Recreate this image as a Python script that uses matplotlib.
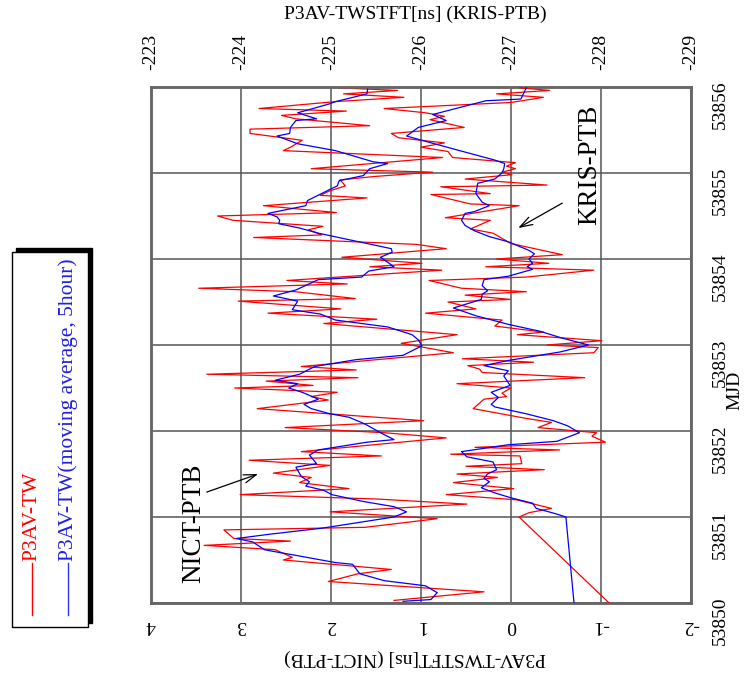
import matplotlib
matplotlib.use("Agg")
import matplotlib.pyplot as plt
from matplotlib.patches import Rectangle
from matplotlib.lines import Line2D

plt.rcParams['font.family'] = ['Liberation Serif', 'DejaVu Serif']

# NICT-PTB, raw P3AV-TW (MJD, ns)
nict_mjd = [
    53855.99, 53855.96, 53855.92, 53855.88, 53855.83, 53855.75, 53855.72, 53855.67,
    53855.63, 53855.55, 53855.51, 53855.46, 53855.38, 53855.30, 53855.26, 53855.18,
    53855.05, 53855.01, 53854.96, 53854.92, 53854.85, 53854.79, 53854.74, 53854.71,
    53854.62, 53854.54, 53854.50, 53854.45, 53854.38, 53854.34, 53854.28, 53854.25,
    53854.17, 53854.12, 53854.02, 53853.95, 53853.91, 53853.87, 53853.75, 53853.71,
    53853.66, 53853.62, 53853.54, 53853.51, 53853.42, 53853.37, 53853.30, 53853.25,
    53853.12, 53853.02, 53852.91, 53852.75, 53852.71, 53852.66, 53852.62, 53852.58,
    53852.53, 53852.50, 53852.45, 53852.40, 53852.36, 53852.26, 53852.12, 53852.04,
    53851.98, 53851.92, 53851.76, 53851.71, 53851.66, 53851.60, 53851.51, 53851.46,
    53851.40, 53851.33, 53851.26, 53851.21, 53851.15, 53851.06, 53850.98, 53850.88,
    53850.85, 53850.75, 53850.72, 53850.67, 53850.62, 53850.53, 53850.50, 53850.39,
    53850.34, 53850.25, 53850.13, 53850.03]
nict_val = [
    1.91, 1.26, 1.86, 1.19, 1.95, 2.80, 1.83, 2.55,
    2.39, 1.57, 2.90, 2.90, 2.32, 2.45, 2.53, 0.76,
    2.22, 0.87, 1.51, 1.90, 1.84, 2.02, 2.12, 1.60,
    2.75, 1.94, 3.26, 3.09, 2.09, 2.25, 2.10, 2.86,
    1.05, 0.72, 1.88, 0.99, 1.57, 0.77, 2.49, 1.82,
    3.47, 2.40, 1.73, 3.03, 1.89, 2.70, 1.49, 2.08,
    0.60, 1.22, 0.64, 2.33, 1.72, 3.38, 1.70, 2.72,
    2.20, 3.07, 1.93, 2.22, 2.03, 2.82, 0.97, 2.51,
    1.41, 0.72, 2.33, 1.44, 2.91, 2.01, 2.64, 2.22,
    2.35, 1.80, 3.01, 1.51, 0.49, 2.01, 0.82, 1.62,
    3.19, 3.08, 2.45, 3.41, 2.62, 2.43, 2.53, 1.33,
    1.70, 2.03, 0.30, 1.30]

# NICT-PTB, moving average 5 hour
nict_avg_mjd = [
    53856.00, 53855.92, 53855.83, 53855.80, 53855.70, 53855.63, 53855.61, 53855.53,
    53855.46, 53855.43, 53855.34, 53855.26, 53855.13, 53855.11, 53855.05, 53854.97,
    53854.91, 53854.85, 53854.80, 53854.68, 53854.62, 53854.53, 53854.49, 53854.45,
    53854.41, 53854.36, 53854.30, 53854.24, 53854.12, 53854.08, 53854.02, 53853.91,
    53853.86, 53853.79, 53853.76, 53853.64, 53853.57, 53853.51, 53853.41, 53853.36,
    53853.29, 53853.21, 53853.12, 53853.06, 53852.99, 53852.88, 53852.83, 53852.75,
    53852.66, 53852.59, 53852.55, 53852.50, 53852.45, 53852.37, 53852.31, 53852.26,
    53852.20, 53852.16, 53852.08, 53851.98, 53851.90, 53851.87, 53851.78, 53851.72,
    53851.62, 53851.58, 53851.47, 53851.41, 53851.36, 53851.31, 53851.26, 53851.18,
    53851.12, 53851.06, 53851.00, 53850.87, 53850.80, 53850.75, 53850.71, 53850.62,
    53850.60, 53850.55, 53850.47, 53850.45, 53850.34, 53850.26, 53850.20, 53850.12,
    53850.04, 53850.02]
nict_avg_val = [
    1.59, 1.60, 1.95, 2.03, 2.37, 2.16, 2.39, 2.45,
    2.46, 2.60, 2.37, 1.95, 1.53, 1.37, 1.57, 1.64,
    1.91, 1.93, 2.03, 2.26, 2.28, 2.70, 2.60, 2.57,
    2.58, 2.35, 2.14, 1.87, 1.33, 1.32, 1.45, 1.30,
    1.58, 1.66, 2.14, 2.39, 2.64, 2.37, 2.43, 2.12,
    1.95, 1.37, 1.10, 1.03, 0.99, 1.20, 1.72, 2.18,
    2.35, 2.62, 2.37, 2.47, 2.32, 2.14, 2.30, 2.22,
    2.01, 1.80, 1.62, 1.45, 1.30, 1.60, 2.14, 2.24,
    2.16, 2.39, 2.33, 2.24, 2.28, 2.08, 1.99, 1.64,
    1.30, 1.16, 1.30, 2.10, 2.68, 3.05, 2.87, 2.74,
    2.64, 2.37, 1.95, 1.76, 1.68, 1.41, 0.95, 0.82,
    0.89, 1.20]

# KRIS-PTB, raw P3AV-TW
kris_mjd = [
    53855.99, 53855.96, 53855.92, 53855.88, 53855.82, 53855.75, 53855.70, 53855.66,
    53855.62, 53855.53, 53855.46, 53855.41, 53855.35, 53855.30, 53855.25, 53855.18,
    53855.12, 53855.08, 53855.05, 53855.01, 53854.98, 53854.93, 53854.86, 53854.84,
    53854.76, 53854.75, 53854.64, 53854.62, 53854.48, 53854.45, 53854.35, 53854.30,
    53854.18, 53854.05, 53854.00, 53853.95, 53853.91, 53853.87, 53853.79, 53853.75,
    53853.66, 53853.62, 53853.58, 53853.53, 53853.50, 53853.42, 53853.37, 53853.29,
    53853.22, 53853.15, 53853.12, 53853.05, 53853.00, 53852.97, 53852.91, 53852.84,
    53852.80, 53852.76, 53852.72, 53852.68, 53852.62, 53852.55, 53852.50, 53852.44,
    53852.40, 53852.37, 53852.26, 53852.15, 53852.10, 53852.04, 53851.98, 53851.94,
    53851.87, 53851.81, 53851.78, 53851.73, 53851.71, 53851.62, 53851.59, 53851.55,
    53851.50, 53851.46, 53851.40, 53851.33, 53851.26, 53851.20, 53851.10, 53851.05,
    53851.00, 53850.00]
kris_val = [
    -227.10, -227.43, -226.84, -227.36, -227.00, -225.59, -226.05, -226.26,
    -226.10, -226.48, -225.67, -225.75, -226.26, -226.00, -226.30, -226.35,
    -227.05, -226.95, -227.05, -226.90, -227.01, -226.49, -227.40, -226.22,
    -226.77, -226.11, -226.55, -227.09, -226.27, -226.77, -226.55, -226.80,
    -227.00, -227.57, -226.84, -227.42, -226.72, -227.92, -227.17, -226.09,
    -226.45, -227.17, -226.49, -226.99, -226.30, -226.61, -226.05, -226.90,
    -226.82, -227.36, -227.07, -228.01, -227.40, -227.97, -227.92, -226.46,
    -227.25, -226.52, -226.65, -226.68, -227.82, -226.40, -227.00, -226.90,
    -226.95, -226.70, -226.58, -227.15, -227.45, -227.30, -227.95, -227.90,
    -228.05, -226.60, -227.54, -226.33, -227.10, -227.12, -226.50, -227.37,
    -226.40, -226.85, -226.36, -227.03, -226.28, -227.06, -227.45, -227.20,
    -227.09, -228.09]

# KRIS-PTB, moving average 5 hour
kris_avg_mjd = [
    53855.99, 53855.86, 53855.84, 53855.68, 53855.61, 53855.53, 53855.43, 53855.38,
    53855.26, 53855.15, 53855.11, 53855.05, 53855.00, 53854.93, 53854.88, 53854.76,
    53854.66, 53854.62, 53854.55, 53854.53, 53854.45, 53854.39, 53854.33, 53854.26,
    53854.20, 53854.10, 53854.06, 53854.00, 53853.95, 53853.91, 53853.88, 53853.80,
    53853.76, 53853.69, 53853.63, 53853.59, 53853.53, 53853.43, 53853.34, 53853.24,
    53853.16, 53853.08, 53853.00, 53852.92, 53852.82, 53852.76, 53852.70, 53852.64,
    53852.53, 53852.45, 53852.39, 53852.31, 53852.28, 53852.20, 53852.12, 53852.06,
    53851.98, 53851.88, 53851.84, 53851.76, 53851.70, 53851.64, 53851.55, 53851.50,
    53851.45, 53851.41, 53851.34, 53851.28, 53851.22, 53851.16, 53851.10, 53851.04,
    53851.00, 53850.00]
kris_avg_val = [
    -227.17, -227.11, -226.72, -226.13, -226.28, -225.97, -225.84, -226.01,
    -226.43, -226.82, -226.93, -226.92, -226.90, -226.82, -226.63, -226.61,
    -226.68, -226.76, -226.59, -226.49, -226.45, -226.49, -226.59, -226.76,
    -226.97, -227.20, -227.26, -227.20, -227.24, -227.18, -227.24, -226.97,
    -226.70, -226.68, -226.74, -226.68, -226.67, -226.36, -226.61, -226.97,
    -227.32, -227.57, -227.86, -227.55, -226.97, -226.70, -226.97, -226.92,
    -226.99, -226.78, -226.86, -226.78, -226.82, -227.17, -227.47, -227.63,
    -227.76, -227.51, -226.97, -226.45, -226.51, -226.80, -226.84, -226.74,
    -226.70, -226.76, -226.67, -226.82, -227.01, -227.24, -227.28, -227.49,
    -227.61, -227.70]

nict_ticks = [4, 3, 2, 1, 0, -1, -2]
kris_ticks = [-223, -224, -225, -226, -227, -228, -229]
mjd_ticks = [53850, 53851, 53852, 53853, 53854, 53855, 53856]

W, H = 751, 675


def fx(px):
    return px / W


def fy(py):
    return 1 - py / H


fig = plt.figure(figsize=(W / 100, H / 100), dpi=100)
ax = fig.add_axes([fx(151), fy(603), (691 - 151) / W, (603 - 87) / H])
ax2 = ax.twiny()

# the chart is turned on its side: values run along x, MJD runs up
ax.plot(nict_val, nict_mjd, color='red', lw=0.9, zorder=3)
ax.plot(nict_avg_val, nict_avg_mjd, color='blue', lw=0.9, zorder=4)
ax2.plot(kris_val, kris_mjd, color='red', lw=0.9, zorder=3)
ax2.plot(kris_avg_val, kris_avg_mjd, color='blue', lw=0.9, zorder=4)

ax.set_xlim(4, -2)
ax2.set_xlim(-223, -229)
ax.set_ylim(53850, 53856)

ax.set_xticks(nict_ticks)
ax.set_xticklabels([str(t) for t in nict_ticks])
ax2.set_xticks(kris_ticks)
ax2.set_xticklabels([str(t) for t in kris_ticks])
ax.set_yticks(mjd_ticks)
ax.set_yticklabels([str(t) for t in mjd_ticks])
ax.yaxis.tick_right()

ax.tick_params(axis='x', labelrotation=180, labelsize=14, length=0, pad=10)
ax.tick_params(axis='y', labelrotation=90, labelsize=14, length=0, pad=15)
ax2.tick_params(axis='x', labelrotation=90, labelsize=14, length=0, pad=12)

ax.grid(True, color='#555555', lw=1.1)
for a in (ax, ax2):
    for s in a.spines.values():
        s.set_color('#666666')
        s.set_linewidth(1.8)

fig.text(fx(415), fy(14), 'P3AV-TWSTFT[ns] (KRIS-PTB)', ha='center', va='center', fontsize=14)
fig.text(fx(415), fy(658), 'P3AV-TWSTFT[ns] (NICT-PTB)', ha='center', va='center',
         rotation=180, fontsize=14)
fig.text(fx(735), fy(390), 'MJD', ha='center', va='center', rotation=90, fontsize=14)

# labels for the two curves
arrow = dict(arrowstyle='->,head_length=0.9,head_width=0.3', color='black', lw=0.9,
             shrinkA=0, shrinkB=0)
ax.text(3.53, 53850.93, 'NICT-PTB', rotation=90, ha='center', va='center', fontsize=19.5)
ax.annotate('', xy=(2.81, 53851.50), xytext=(3.38, 53851.29), arrowprops=arrow)
ax.text(-0.88, 53855.09, 'KRIS-PTB', rotation=90, ha='center', va='center', fontsize=19.5)
ax.annotate('', xy=(-0.08, 53854.36), xytext=(-0.57, 53854.65), arrowprops=arrow)

# legend box with shadow
fig.patches.append(Rectangle((fx(16), fy(623)), (92 - 16) / W, (623 - 248) / H,
                             transform=fig.transFigure, facecolor='black', edgecolor='black'))
fig.patches.append(Rectangle((fx(12), fy(627)), (88 - 12) / W, (627 - 252) / H,
                             transform=fig.transFigure, facecolor='white', edgecolor='black', lw=1))
fig.add_artist(Line2D([fx(32), fx(32)], [fy(615), fy(563)], color='red', lw=1,
                      transform=fig.transFigure))
fig.add_artist(Line2D([fx(68), fx(68)], [fy(615), fy(563)], color='#3030ff', lw=1,
                      transform=fig.transFigure))
fig.text(fx(32), fy(561), 'P3AV-TW', rotation=90, ha='center', va='bottom',
         color='red', fontsize=15.5)
fig.text(fx(68), fy(561), 'P3AV-TW(moving average, 5hour)', rotation=90, ha='center',
         va='bottom', color='#2020e0', fontsize=15.5)

fig.savefig('out.png', dpi=100)
